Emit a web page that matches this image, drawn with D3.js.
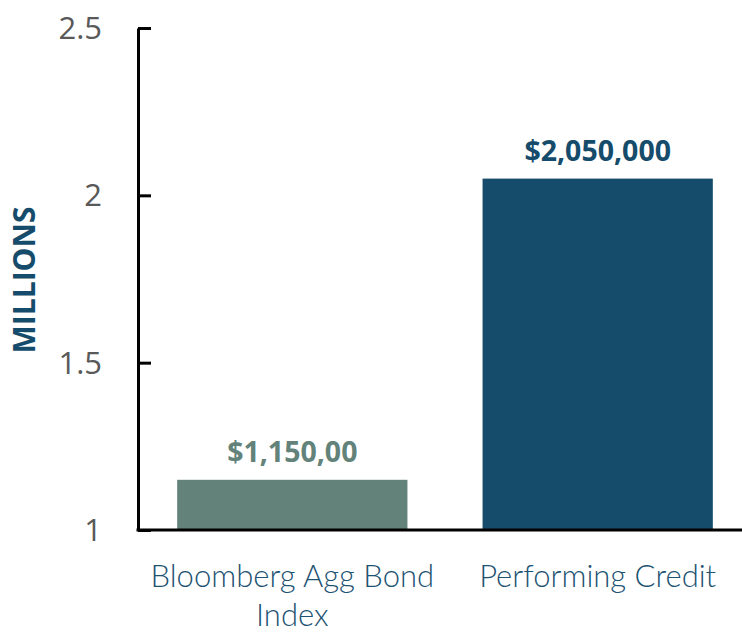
<!DOCTYPE html>
<html><head><meta charset="utf-8">
<script src="https://cdn.jsdelivr.net/npm/d3@7"></script>
<style>html,body{margin:0;padding:0;background:#fff;overflow:hidden}</style>
</head><body>
<svg id="chart" width="742" height="633"></svg>
<script>
const categories = ["Bloomberg Agg Bond Index", "Performing Credit"];
const categoryLines = [["Bloomberg Agg Bond", "Index"], ["Performing Credit"]];
const values = [1.15, 2.05];
const valueLabels = ["$1,150,00", "$2,050,000"];
const yTicks = [1, 1.5, 2, 2.5];
const yTickLabels = ["1", "1.5", "2", "2.5"];
const colors = ["#62827A", "#164C6B"];

const svg = d3.select("#chart");
const x0 = 138, x1 = 742, yTop = 28, yBot = 530;
const x = d3.scaleBand().domain(categories).range([139, 751]).paddingInner(0.246).paddingOuter(0.125);
const y = d3.scaleLinear().domain([1, 2.5]).range([yBot, yTop]);

// bars
svg.selectAll("rect.bar").data(values).join("rect")
  .attr("x", (d, i) => x(categories[i]))
  .attr("width", x.bandwidth())
  .attr("y", d => y(d))
  .attr("height", d => y(1) - y(d))
  .attr("fill", (d, i) => colors[i]);

// y axis
const yAxis = d3.axisRight(y).tickValues(yTicks).tickFormat("").tickSize(13).tickSizeOuter(0);
const ya = svg.append("g").attr("transform", `translate(${x0},0)`).call(yAxis);
ya.select(".domain").attr("stroke", "#000").attr("stroke-width", 3);
ya.selectAll(".tick line").attr("stroke", "#000").attr("stroke-width", 3);

// y tick labels
svg.selectAll("text.ytl").data(yTicks).join("text")
  .attr("x", 102).attr("y", d => y(d) + 11)
  .attr("text-anchor", "end")
  .attr("font-family", "'Open Sans', sans-serif")
  .attr("font-size", 31).attr("fill", "#595959")
  .text((d, i) => yTickLabels[i]);

// x axis line
svg.append("line").attr("x1", x0 - 1.5).attr("x2", x1).attr("y1", y(1)).attr("y2", y(1))
  .attr("stroke", "#000").attr("stroke-width", 3);

// value labels
svg.selectAll("text.vl").data(values).join("text")
  .attr("x", (d, i) => x(categories[i]) + x.bandwidth() / 2)
  .attr("y", d => y(d) - 18)
  .attr("text-anchor", "middle")
  .attr("font-family", "'Open Sans', sans-serif")
  .attr("font-weight", 700)
  .attr("font-size", 28.5).attr("fill", (d, i) => colors[i])
  .text((d, i) => valueLabels[i]);

// category labels
categories.forEach((c, i) => {
  const t = svg.append("text")
    .attr("x", x(c) + x.bandwidth() / 2)
    .attr("y", 587)
    .attr("text-anchor", "middle")
    .attr("font-family", "Lato, sans-serif")
    .attr("font-weight", 300)
    .attr("font-size", 31).attr("fill", "#1D5272");
  categoryLines[i].forEach((l, j) => {
    t.append("tspan").attr("x", x(c) + x.bandwidth() / 2).attr("dy", j === 0 ? 0 : 39).text(l);
  });
});

// y axis title
svg.append("text")
  .attr("transform", "translate(35,280) rotate(-90)")
  .attr("text-anchor", "middle")
  .attr("font-family", "'Open Sans', sans-serif")
  .attr("font-weight", 700)
  .attr("font-size", 30).attr("fill", "#164C6B")
  .text("MILLIONS");
</script>
</body></html>
